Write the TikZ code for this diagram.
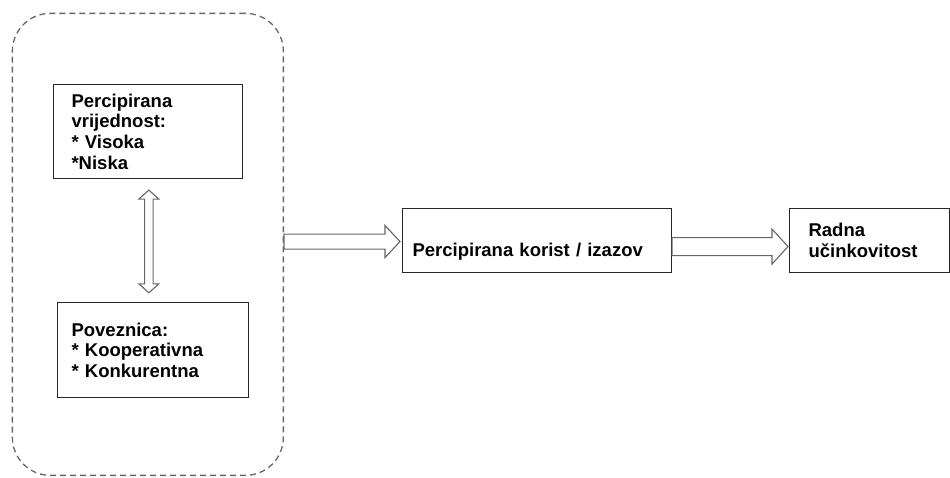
\documentclass[tikz,border=0pt]{standalone}
\usepackage{fontspec}
\setmainfont{Liberation Sans}
\usetikzlibrary{calc}
\newcommand\hollowH[5]{%
  \draw[hollow] ($(#1)+(0,-#3)$) -- ($(#2)+(-#5,-#3)$) -- ($(#2)+(-#5,-#4)$) -- (#2)
    -- ($(#2)+(-#5,#4)$) -- ($(#2)+(-#5,#3)$) -- ($(#1)+(0,#3)$) -- cycle;}
\begin{document}
\begin{tikzpicture}[x=1pt,y=-1pt,
  box/.style={draw=black!85, line width=1.1pt, anchor=north west, inner ysep=0pt,
    font=\bfseries\fontsize{18.5}{20.7}\selectfont, align=left},
  hollow/.style={draw=black!60, line width=1.1pt, fill=white, line join=miter},
  grpbox/.style={draw=black!60, line width=1.3pt, dash pattern=on 6pt off 4pt,
    rounded corners=38pt, anchor=north west, inner sep=0pt}]
\useasboundingbox (0,0) rectangle (950,477);

\node[grpbox, minimum width=271pt, minimum height=462pt] (grp) at (11.7,12.7) {};

\node[box, minimum height=94pt, inner xsep=18pt, text width=153pt] (b1) at (53,84)
  {Percipirana\\vrijednost:\\{*} Visoka\\{*}Niska};
\node[box, minimum height=94.5pt, inner xsep=14.5pt, text width=162pt] (b2) at (56.5,302.3)
  {Poveznica:\\{*} Kooperativna\\{*} Konkurentna};
\node[box, minimum height=64pt, inner xsep=10pt, text width=249pt, text height=32pt, text depth=0pt] (b3) at (402,208)
  {Percipirana korist / izazov};
\node[box, minimum height=64pt, inner xsep=19pt, text width=122pt] (b4) at (789,208)
  {Radna\\učinkovitost};

% vertical double arrow
\coordinate (vt) at ($(b1.south)+(0.8,11)$);
\coordinate (vb) at ($(vt |- b2.north)+(0,-9.5)$);
\draw[hollow] (vt) -- ($(vt)+(10,9)$) -- ($(vt)+(4.3,9)$) -- ($(vb)+(4.3,-9)$)
  -- ($(vb)+(10,-9)$) -- (vb) -- ($(vb)+(-10,-9)$) -- ($(vb)+(-4.3,-9)$)
  -- ($(vt)+(-4.3,9)$) -- ($(vt)+(-10,9)$) -- cycle;

% horizontal arrows
\coordinate (a1s) at ($(grp.east |- b3.center)+(0,1)$);
\coordinate (a1t) at ($(b3.west)+(-2,1)$);
\hollowH{a1s}{a1t}{7.5}{16}{15}
\coordinate (a2s) at ($(b3.east)+(0,6)$);
\coordinate (a2t) at ($(b4.west)+(-1,6)$);
\hollowH{a2s}{a2t}{9}{17.5}{16}
\end{tikzpicture}
\end{document}
